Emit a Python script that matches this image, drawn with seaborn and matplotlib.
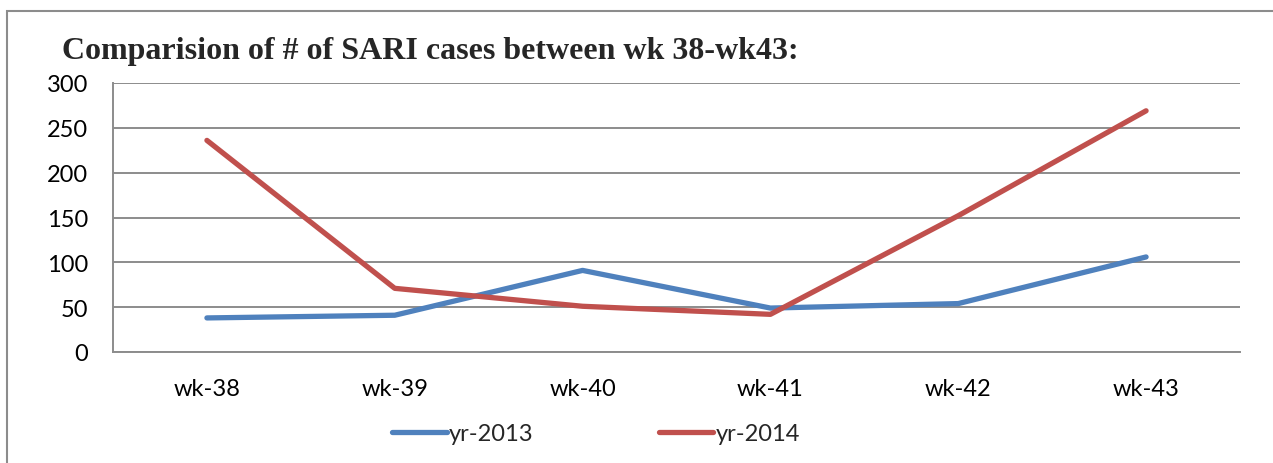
import matplotlib
matplotlib.use("Agg")
import matplotlib.pyplot as plt
from matplotlib.patches import Rectangle
import seaborn as sns
import pandas as pd

# data
weeks = ["wk-38", "wk-39", "wk-40", "wk-41", "wk-42", "wk-43"]
yr_2013 = [38, 41, 91, 49, 54, 106]
yr_2014 = [236, 71, 51, 42, 152, 269]

df = pd.DataFrame({
    "week": weeks * 2,
    "cases": yr_2013 + yr_2014,
    "series": ["yr-2013"] * len(weeks) + ["yr-2014"] * len(weeks),
})

sns.set_theme(style="white")
plt.rcParams["font.family"] = ["Lato", "DejaVu Sans"]

fig = plt.figure(figsize=(12.73, 4.64), dpi=100)
ax = fig.add_axes([113 / 1273, 1 - 353 / 464, 1127 / 1273, 269 / 464])

sns.lineplot(data=df, x="week", y="cases", hue="series", sort=False,
             palette={"yr-2013": "#4F81BD", "yr-2014": "#C0504D"},
             linewidth=3.8, ax=ax, legend=True, solid_capstyle="round")

ax.set_xlim(-0.5, 5.5)
ax.set_ylim(0, 300)
ax.set_yticks(range(0, 301, 50))
ax.grid(axis="y", color="#8C8C8C", linewidth=1.4)
ax.set_axisbelow(True)
for s in ["top", "right"]:
    ax.spines[s].set_visible(False)
for s in ["left", "bottom"]:
    ax.spines[s].set_color("#8C8C8C")
    ax.spines[s].set_linewidth(1.4)
ax.tick_params(axis="both", length=0, labelsize=17, colors="black")
ax.tick_params(axis="x", pad=19)
ax.tick_params(axis="y", pad=18)
ax.set_xlabel("")
ax.set_ylabel("")

handles, labels = ax.get_legend_handles_labels()
leg = ax.legend(handles, labels, loc="center", bbox_to_anchor=(596 / 1273, 1 - 435 / 464),
                bbox_transform=fig.transFigure, ncol=2, frameon=False, fontsize=17,
                handlelength=2.3, handletextpad=0.1, columnspacing=5.3)
for h in leg.get_lines():
    h.set_solid_capstyle("round")

fig.text(62 / 1273, 1 - 52 / 464, "Comparision of # of SARI cases between wk 38-wk43:",
         fontsize=23, fontweight="bold", family="Liberation Serif",
         ha="left", va="center")

# outer chart frame
fig.patches.append(Rectangle((7 / 1273, -0.1), 1.2, 1 - 12 / 464 + 0.1,
                             transform=fig.transFigure, fill=False,
                             edgecolor="#8C8C8C", linewidth=1.5))

fig.savefig("out.png", dpi=100)
